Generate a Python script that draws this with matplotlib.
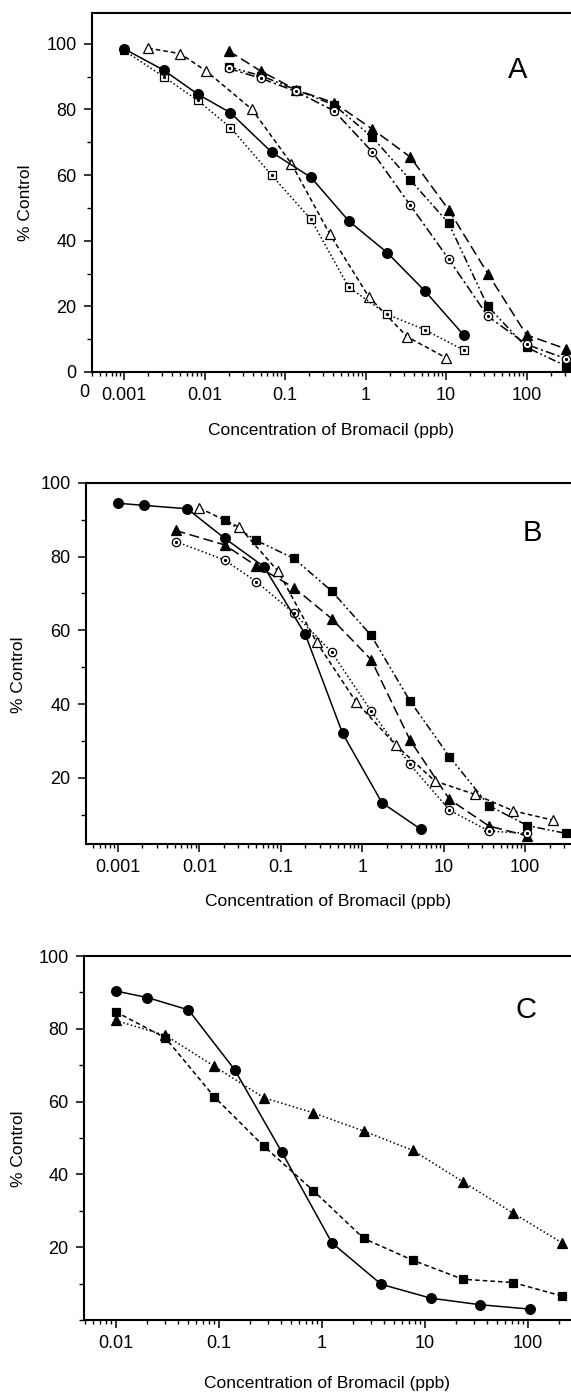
import matplotlib
matplotlib.use("Agg")
import matplotlib.pyplot as plt
from matplotlib.ticker import FixedLocator, FixedFormatter, LogLocator, MultipleLocator, NullFormatter

plt.rcParams['font.family'] = ['Liberation Sans', 'DejaVu Sans']

# ---- Panel A data ----
a_circ_x = [0.001, 0.0031, 0.0082, 0.021, 0.068, 0.21, 0.62, 1.85, 5.5, 16.5]
a_circ_y = [98.5, 92, 84.7, 79, 67, 59.3, 46, 36.4, 24.6, 11.3]
a_osq_x = [0.001, 0.0031, 0.0082, 0.021, 0.068, 0.21, 0.62, 1.85, 5.5, 16.5]
a_osq_y = [98, 90, 82.8, 74.5, 60, 46.5, 25.8, 17.6, 12.8, 6.7]
a_otri_x = [0.002, 0.005, 0.0105, 0.039, 0.12, 0.36, 1.1, 3.3, 10]
a_otri_y = [98.7, 97, 91.7, 80, 63.5, 42, 22.9, 10.7, 4.3]
a_x2 = [0.02, 0.05, 0.137, 0.41, 1.22, 3.6, 10.8, 33, 100, 310]
a_ftri_y = [97.8, 91.7, 86, 82, 74, 65.5, 49.4, 30, 11.3, 7]
a_fsq_y = [93, 90.3, 86, 81.3, 71.5, 58.5, 45.3, 20, 7.5, 1.8]
a_ocirc_y = [92.5, 89.5, 85.5, 79.5, 67, 50.8, 34.4, 17, 8.4, 4]

# ---- Panel B data ----
b_circ_x = [0.001, 0.0021, 0.0071, 0.0204, 0.062, 0.2, 0.575, 1.75, 5.25]
b_circ_y = [94.5, 93.9, 93, 85, 77.3, 58.9, 32, 13.2, 6]
b_otri_x = [0.01, 0.031, 0.093, 0.275, 0.84, 2.6, 7.8, 24, 72, 218]
b_otri_y = [93.2, 88, 76, 56.8, 40.6, 28.8, 19.1, 15.5, 11, 8.5]
b_fsq_x = [0.0204, 0.05, 0.145, 0.42, 1.29, 3.87, 11.8, 36, 107, 316]
b_fsq_y = [90, 84.4, 79.5, 70.7, 58.6, 40.8, 25.7, 12.4, 7, 4.9]
b_x2 = [0.0051, 0.0204, 0.05, 0.145, 0.42, 1.29, 3.87, 11.8, 36, 107]
b_ftri_y = [87.1, 83.2, 77.5, 71.6, 63.2, 52, 30.2, 14.1, 6.9, 4.2]
b_ocirc_y = [84.1, 79.1, 73.2, 64.7, 54.1, 38.1, 23.6, 11.2, 5.5, 4.9]

# ---- Panel C data ----
c_circ_x = [0.01, 0.0203, 0.051, 0.143, 0.41, 1.26, 3.8, 11.5, 34.6, 105]
c_circ_y = [90.4, 88.6, 85.2, 68.8, 46.2, 21.2, 9.8, 6, 4.2, 3]
c_x2 = [0.01, 0.0305, 0.091, 0.274, 0.835, 2.57, 7.7, 23.5, 72, 216]
c_sq_y = [84.7, 77.5, 61.3, 47.8, 35.5, 22.4, 16.4, 11.2, 10.3, 6.6]
c_tri_y = [82.3, 78.2, 69.7, 61.1, 56.9, 51.9, 46.6, 38, 29.4, 21.2]

decades = [0.001, 0.01, 0.1, 1, 10, 100]
decade_labels = ["0.001", "0.01", "0.1", "1", "10", "100"]

SOLID = '-'
DOT = (0, (1, 1.6))
SHORTDASH = (0, (3, 2))
LONGDASH = (0, (6.5, 3))
DASHDOT = (0, (6, 2, 1.5, 2))
DASHDOTDOT = (0, (5, 1.8, 1.2, 1.8, 1.2, 1.8))


def series(ax, x, y, marker, filled, ls, ms=6.5, dot=False):
    fc = 'black' if filled else 'white'
    ax.plot(x, y, color='black', lw=1.1, ls=ls, marker=marker, ms=ms,
            mfc=fc, mec='black', mew=0.9, zorder=3)
    if dot:
        ax.plot(x, y, ls='none', marker='o', ms=1.3, color='black', zorder=4)


def style(ax, xlim, ylim, yticks, letter, letter_xy, ylab_x, xlab_y):
    ax.set_xscale('log')
    ax.set_xlim(*xlim)
    ax.set_ylim(*ylim)
    ticks = [t for t in decades if xlim[0] <= t <= xlim[1]]
    labs = [decade_labels[decades.index(t)] for t in ticks]
    ax.xaxis.set_major_locator(FixedLocator(ticks))
    ax.xaxis.set_major_formatter(FixedFormatter(labs))
    ax.xaxis.set_minor_locator(LogLocator(base=10, subs=range(2, 10), numticks=20))
    ax.xaxis.set_minor_formatter(NullFormatter())
    ax.yaxis.set_major_locator(FixedLocator(yticks))
    ax.yaxis.set_minor_locator(MultipleLocator(10))
    ax.tick_params(which='major', direction='out', length=6, width=1.1,
                   labelsize=13, pad=5)
    ax.tick_params(which='minor', direction='out', length=3.5, width=1.0)
    ax.tick_params(axis='x', which='minor', length=3)
    ax.spines['right'].set_visible(False)
    for s in ['left', 'bottom', 'top']:
        ax.spines[s].set_linewidth(1.5)
    ax.set_ylabel('% Control', fontsize=12.5)
    ax.set_xlabel('Concentration of Bromacil (ppb)', fontsize=12.5)
    ax.yaxis.set_label_coords(ylab_x, 0.47)
    ax.xaxis.set_label_coords(0.5, xlab_y)
    ax.text(letter_xy[0], letter_xy[1], letter, fontsize=21,
            ha='center', va='center')


fig = plt.figure(figsize=(5.71, 13.93), dpi=100)

# Panel A
axA = fig.add_axes([0.1611, 0.7330, 0.8389, 0.2579])
series(axA, a_x2, a_ftri_y, '^', True, LONGDASH, ms=7.5)
series(axA, a_x2, a_fsq_y, 's', True, DASHDOTDOT, ms=6)
series(axA, a_x2, a_ocirc_y, 'o', False, DASHDOT, ms=6, dot=True)
series(axA, a_otri_x, a_otri_y, '^', False, SHORTDASH, ms=7)
series(axA, a_osq_x, a_osq_y, 's', False, DOT, ms=5.5, dot=True)
series(axA, a_circ_x, a_circ_y, 'o', True, SOLID, ms=7)
style(axA, (0.0004, 357), (0, 109.5), [0, 20, 40, 60, 80, 100], 'A', (77, 92),
      -0.123, -0.142)
axA.text(-0.017, -0.056, '0', transform=axA.transAxes, fontsize=13,
         ha='center', va='center')

# Panel B
axB = fig.add_axes([0.1506, 0.3941, 0.8494, 0.2592])
series(axB, b_fsq_x, b_fsq_y, 's', True, DASHDOTDOT, ms=6)
series(axB, b_x2, b_ftri_y, '^', True, LONGDASH, ms=7.5)
series(axB, b_x2, b_ocirc_y, 'o', False, DOT, ms=6, dot=True)
series(axB, b_otri_x, b_otri_y, '^', False, SHORTDASH, ms=7)
series(axB, b_circ_x, b_circ_y, 'o', True, SOLID, ms=7)
style(axB, (0.000405, 367), (2, 100), [20, 40, 60, 80, 100], 'B', (122, 86.5),
      -0.124, -0.139)

# Panel C
axC = fig.add_axes([0.1471, 0.0524, 0.8529, 0.2613])
series(axC, c_x2, c_tri_y, '^', True, DOT, ms=7.5)
series(axC, c_x2, c_sq_y, 's', True, SHORTDASH, ms=6)
series(axC, c_circ_x, c_circ_y, 'o', True, SOLID, ms=7)
style(axC, (0.00494, 264), (0, 100), [20, 40, 60, 80, 100], 'C', (96, 85.2),
      -0.119, -0.155)

fig.savefig('out.png', dpi=100)
